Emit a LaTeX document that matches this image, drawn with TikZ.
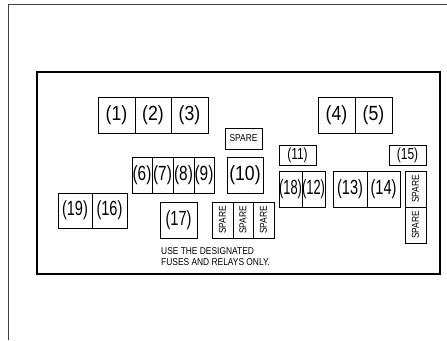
\documentclass[tikz,border=0pt]{standalone}
\usepackage{fontspec}
\setmainfont{Liberation Sans}
\newfontfamily\condfont[FakeStretch=0.86]{Liberation Sans}
\newfontfamily\tightfont[FakeStretch=0.71]{Liberation Sans}
\newfontfamily\midfont[FakeStretch=0.75]{Liberation Sans}
\newfontfamily\narrowfont[FakeStretch=0.63]{Liberation Sans}
\newfontfamily\slotfont[FakeStretch=0.75]{Liberation Sans}
\newfontfamily\sparefont[FakeStretch=0.84]{Liberation Sans}
\begin{document}
\begin{tikzpicture}[x=1pt,y=-1pt,
  cell/.style={draw=black,line width=0.8pt,inner sep=0pt,minimum height=36pt,
    font=\condfont\fontsize{20.5}{20.5}\selectfont},
  tightcell/.style={cell,font=\tightfont\fontsize{20.5}{20.5}\selectfont},
  midcell/.style={cell,font=\midfont\fontsize{20.5}{20.5}\selectfont},
  narrowcell/.style={cell,font=\narrowfont\fontsize{20.5}{20.5}\selectfont},
  slot/.style={cell,minimum height=20pt,font=\slotfont\fontsize{16}{16}\selectfont},
  sparecell/.style={cell,font=\sparefont\fontsize{10}{10}\selectfont},
  vspare/.style={sparecell,minimum width=21pt,minimum height=36pt},
  note/.style={align=left,inner sep=0pt,font=\sparefont\fontsize{10}{11}\selectfont}]
\useasboundingbox (0,0) rectangle (447,340);
% outer frame
\coordinate (otl) at (8,4);
\coordinate (otr) at (447,4);
\coordinate (obl) at (8,340);
\draw[black!75,line width=1pt] (obl) -- (otl) -- (otr);
% inner frame
\coordinate (itl) at (37,72);
\coordinate (ibr) at (440,274);
\draw[black,line width=2.2pt] (itl) rectangle (ibr);
% top row
\node[cell,minimum width=37pt] (c1) at (116.5,115) {(1)};
\node[cell,minimum width=36pt] (c2) at (153,115) {(2)};
\node[cell,minimum width=37pt] (c3) at (189.5,115) {(3)};
\node[cell,minimum width=37pt] (c4) at (336.5,115) {(4)};
\node[cell,minimum width=37pt] (c5) at (373.5,115) {(5)};
% spare above (10)
\node[sparecell,minimum width=37pt,minimum height=21pt] (s0) at (243.5,138.5) {SPARE};
\node[cell,minimum width=36pt] (c10) at (245,175) {(10)};
% (6)-(9)
\node[midcell,minimum width=20pt] (c6) at (142,175) {(6)};
\node[midcell,minimum width=21pt] (c7) at (162.5,175) {(7)};
\node[midcell,minimum width=21pt] (c8) at (183.5,175) {(8)};
\node[midcell,minimum width=20pt] (c9) at (204,175) {(9)};
% (19)(16)
\node[tightcell,minimum width=34pt,minimum height=35pt] (c19) at (75,210.5) {(19)};
\node[tightcell,minimum width=35pt,minimum height=35pt] (c16) at (109.5,210.5) {(16)};
% (17)
\node[tightcell,minimum width=37pt] (c17) at (178.5,220) {(17)};
% three spares
\node[sparecell,minimum width=21pt] (s1) at (222.5,220) {\rotatebox{90}{SPARE}};
\node[sparecell,minimum width=20pt] (s2) at (243,220) {\rotatebox{90}{SPARE}};
\node[sparecell,minimum width=21pt] (s3) at (263.5,220) {\rotatebox{90}{SPARE}};
% (11) (18)(12)
\node[slot,minimum width=37pt] (c11) at (297.5,155) {(11)};
\node[narrowcell,minimum width=23pt] (c18) at (290.5,189) {(18)};
\node[narrowcell,minimum width=23pt] (c12) at (313.5,189) {(12)};
% (13)(14)
\node[tightcell,minimum width=34pt] (c13) at (350,189) {(13)};
\node[tightcell,minimum width=33pt] (c14) at (383.5,189) {(14)};
% (15) and vertical spares
\node[slot,minimum width=37pt] (c15) at (407.5,155) {(15)};
\node[vspare] (s4) at (415.5,189) {\rotatebox{90}{SPARE}};
\node[vspare] (s5) at (415.5,225) {\rotatebox{90}{SPARE}};
% note
\node[note,anchor=west] (txt) at (161,256.5) {USE THE DESIGNATED\\FUSES AND RELAYS ONLY.};
\end{tikzpicture}
\end{document}
